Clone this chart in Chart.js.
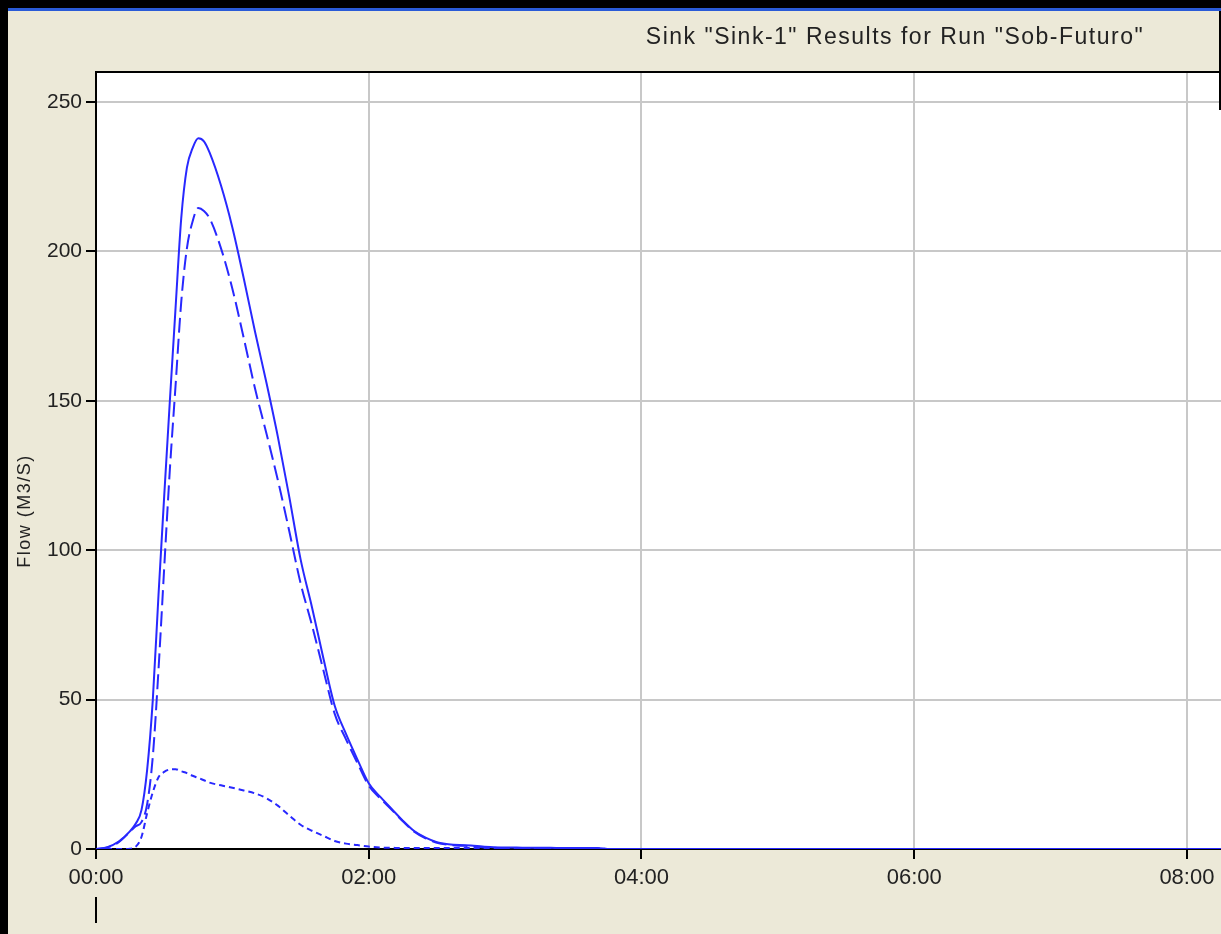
<!DOCTYPE html>
<html><head><meta charset="utf-8">
<script src="https://cdn.jsdelivr.net/npm/chart.js@4/dist/chart.umd.min.js"></script>
<style>html,body{margin:0;padding:0;background:#ECE9D8;overflow:hidden}canvas{display:block}</style>
</head><body>
<canvas id="c" width="1221" height="934"></canvas>
<script>
// time in minutes since 00:00
const timesMin = [0,5,10,15,17.5,20,22.5,25,27.5,30,32.5,35,37.5,40,42.5,45,47.5,50,55,60,65,70,75,80,85,90,95,100,105,110,115,120,125,130,135,140,145,150,155,160,165,170,175,180,185,190,195,200,205,210,215,220,225,495];
const totalFlow = [0,0.6,2.5,6,8.5,13,26.5,50,85,118,150,181,211,228,234.5,237.8,236.8,233,222,208,191,173,156,138,118,97,81,64,48,38.5,30,22,17.5,13.5,9.5,6,3.8,2.3,1.6,1.3,1.2,0.8,0.6,0.5,0.5,0.4,0.4,0.4,0.3,0.3,0.3,0.3,0,0];
const directFlow = [0,0.5,2.3,5.8,7.6,9,15,31,60,94,127,155,183,201,210,214.5,213.5,211,201,187.5,171,154,139,123.5,106.5,89,75,60,45.3,36.7,28.8,21.2,17,13.2,9.3,5.8,3.6,2.1,1.4,1.1,1.0,0.6,0.4,0.3,0.2,0.2,0.2,0.1,0.1,0.1,0.1,0.1,0,0];
const baseFlow = [0,0,0,0.1,0.8,4,12,19,24,25.8,26.6,26.7,26,25.4,24.5,23.8,23,22.2,21.3,20.5,19.6,18.6,17,14.5,11.2,8.1,6.1,4.4,2.7,1.8,1.3,0.8,0.5,0.4,0.3,0.3,0.3,0.3,0.3,0.3,0.3,0.3,0.3,0.3,0.3,0.3,0.3,0.3,0.3,0.3,0.3,0.3,0,0];
const xTickMinutes = [0,120,240,360,480];
const yTickValues = [0,50,100,150,200,250];
const titleText = 'Sink "Sink-1" Results for Run "Sob-Futuro"';
const yAxisLabel = 'Flow (M3/S)';

const pts = arr => timesMin.map((t,i)=>({x:t,y:arr[i]}));
const BLUE = 'rgb(40,40,255)';
const FONT = "'Liberation Sans', Arial, sans-serif";

const frame = {
  id:'frame',
  beforeDraw(chart){
    const ctx = chart.ctx, a = chart.chartArea;
    ctx.save();
    ctx.fillStyle = '#ECE9D8';
    ctx.fillRect(0,0,chart.width,chart.height);
    ctx.fillStyle = '#FFFFFF';
    ctx.fillRect(a.left,a.top,a.right-a.left,a.bottom-a.top);
    ctx.restore();
  },
  afterDraw(chart){
    const ctx = chart.ctx, a = chart.chartArea;
    ctx.save();
    ctx.fillStyle = '#000';
    ctx.fillRect(0,0,chart.width,8);
    ctx.fillRect(0,0,8,chart.height);
    ctx.fillRect(chart.width-2,0,2,110);
    ctx.fillStyle = '#2a5bd7';
    ctx.fillRect(8,8,chart.width-8,3);
    ctx.fillStyle = '#000';
    ctx.fillRect(a.left-1,a.top-1,chart.width-a.left+1,2);
    ctx.fillRect(a.left-1,897,2,26);
    ctx.fillStyle = '#222';
    ctx.textAlign = 'center';
    ctx.textBaseline = 'middle';
    ctx.font = '23px ' + FONT;
    try { ctx.letterSpacing = '1.5px'; } catch(e) {}
    ctx.fillText(titleText, 895, 38);
    ctx.translate(25,511);
    ctx.rotate(-Math.PI/2);
    ctx.font = '18px ' + FONT;
    try { ctx.letterSpacing = '1.5px'; } catch(e) {}
    ctx.fillText(yAxisLabel,0,0);
    ctx.restore();
  }
};

const fmt = v => { const h=Math.floor(v/60), m=Math.round(v%60); return String(h).padStart(2,'0')+':'+String(m).padStart(2,'0'); };

new Chart(document.getElementById('c'), {
  type:'line',
  data:{datasets:[
    {label:'Outflow', data:pts(totalFlow), borderColor:BLUE, borderWidth:2, pointRadius:0, cubicInterpolationMode:'monotone', fill:false},
    {label:'Direct', data:pts(directFlow), borderColor:BLUE, borderWidth:2, borderDash:[15,6], pointRadius:0, cubicInterpolationMode:'monotone', fill:false},
    {label:'Baseflow', data:pts(baseFlow), borderColor:BLUE, borderWidth:2, borderDash:[6,4], pointRadius:0, cubicInterpolationMode:'monotone', fill:false}
  ]},
  options:{
    responsive:false, animation:false, devicePixelRatio:1,
    events:[],
    layout:{padding:{top:72,left:0,right:0,bottom:0}},
    plugins:{legend:{display:false}, tooltip:{enabled:false}, title:{display:false}},
    scales:{
      x:{type:'linear', min:0, max:495,
        afterFit(s){ s.height = 85; },
        afterBuildTicks(s){ s.ticks = xTickMinutes.map(v=>({value:v})); },
        grid:{color:'#c8c8c8', lineWidth:2, tickColor:'#000', tickLength:10, drawTicks:true},
        border:{color:'#000', width:2},
        ticks:{callback:v=>fmt(v), font:{family:FONT,size:22}, color:'#222', padding:6, maxRotation:0, autoSkip:false}
      },
      y:{type:'linear', min:0, max:260,
        afterFit(s){ s.width = 96; },
        afterBuildTicks(s){ s.ticks = yTickValues.map(v=>({value:v})); },
        grid:{color:'#c8c8c8', lineWidth:2, tickColor:'#000', tickLength:10, drawTicks:true},
        border:{color:'#000', width:2},
        ticks:{font:{family:FONT,size:21}, color:'#222', padding:4}
      }
    }
  },
  plugins:[frame]
});
</script>
</body></html>
